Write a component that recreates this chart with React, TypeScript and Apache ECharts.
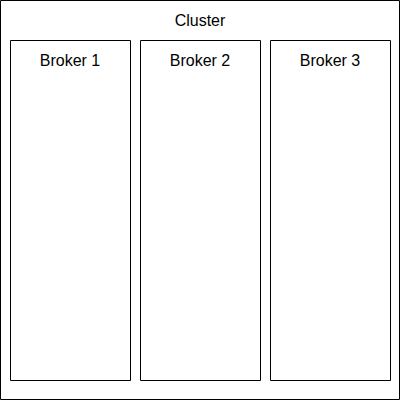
import { useEffect, useRef } from 'react';
import * as echarts from 'echarts';

const clusterLabel = 'Cluster';
const brokers = ['Broker 1', 'Broker 2', 'Broker 3'];

export default function App() {
  const ref = useRef<HTMLDivElement>(null);

  useEffect(() => {
    if (!ref.current) return;
    const chart = echarts.init(ref.current, undefined, { renderer: 'svg' });
    const font = '16px "Liberation Sans", Arial, sans-serif';
    const elements: any[] = [
      {
        type: 'rect',
        shape: { x: 0.5, y: 0.5, width: 399, height: 399 },
        style: { fill: '#fff', stroke: '#000', lineWidth: 1 },
      },
      {
        type: 'text',
        x: 200,
        y: 20,
        style: { text: clusterLabel, font, fill: '#000', align: 'center', verticalAlign: 'middle' },
      },
    ];
    brokers.forEach((name, i) => {
      const x = 10 + i * 130;
      elements.push({
        type: 'rect',
        shape: { x: x + 0.5, y: 40.5, width: 120, height: 340 },
        style: { fill: '#fff', stroke: '#000', lineWidth: 1 },
      });
      elements.push({
        type: 'text',
        x: x + 60,
        y: 60,
        style: { text: name, font, fill: '#000', align: 'center', verticalAlign: 'middle' },
      });
    });
    chart.setOption({ animation: false, graphic: { elements } });
    return () => chart.dispose();
  }, []);

  return (
    <div
      ref={ref}
      style={{ position: 'fixed', left: 0, top: 0, width: 401, height: 401, background: '#fff' }}
    />
  );
}
